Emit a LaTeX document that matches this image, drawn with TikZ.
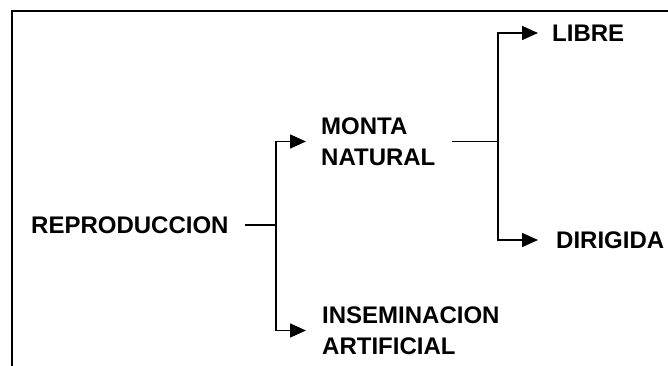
\documentclass[tikz,border=0pt]{standalone}
\usepackage{fontspec}
\setmainfont{Liberation Sans}
\usetikzlibrary{arrows.meta}
\begin{document}
\begin{tikzpicture}[x=1pt,y=-1pt,
  label/.style={inner sep=0pt,anchor=west,align=left,
    font=\bfseries\fontsize{24}{31}\selectfont},
  link/.style={line width=1.6pt},
  arr/.style={link,-{Triangle[length=16pt,width=14pt]}},
  frame/.style={line width=2.4pt}]
  \useasboundingbox (0,0) rectangle (668,366);
  % open frame: top and left edges only
  \draw[frame] (12,366) -- (12,11) -- (668,11);

  % labels
  \node[label] (rep)    at (31,225)    {REPRODUCCION};
  \node[label] (monta)  at (321,141.5) {MONTA\\NATURAL};
  \node[label] (insem)  at (322,330.5) {INSEMINACION\\ARTIFICIAL};
  \node[label] (libre)  at (552,33)    {LIBRE};
  \node[label] (dirig)  at (556,240)   {DIRIGIDA};

  % branch points of the brackets
  \coordinate (j1) at (276,225);
  \coordinate (j2) at (498,141.5);

  % first level
  \draw[link] ([xshift=16pt]rep.east) -- (j1);
  \draw[arr] (j1) |- ([xshift=-15pt]monta.west);
  \draw[arr] (j1) |- ([xshift=-16pt]insem.west);

  % second level
  \draw[link] ([xshift=16pt]monta.east) -- (j2);
  \draw[arr] (j2) |- ([xshift=-14pt]libre.west);
  \draw[arr] (j2) |- ([xshift=-18pt]dirig.west);
\end{tikzpicture}
\end{document}
